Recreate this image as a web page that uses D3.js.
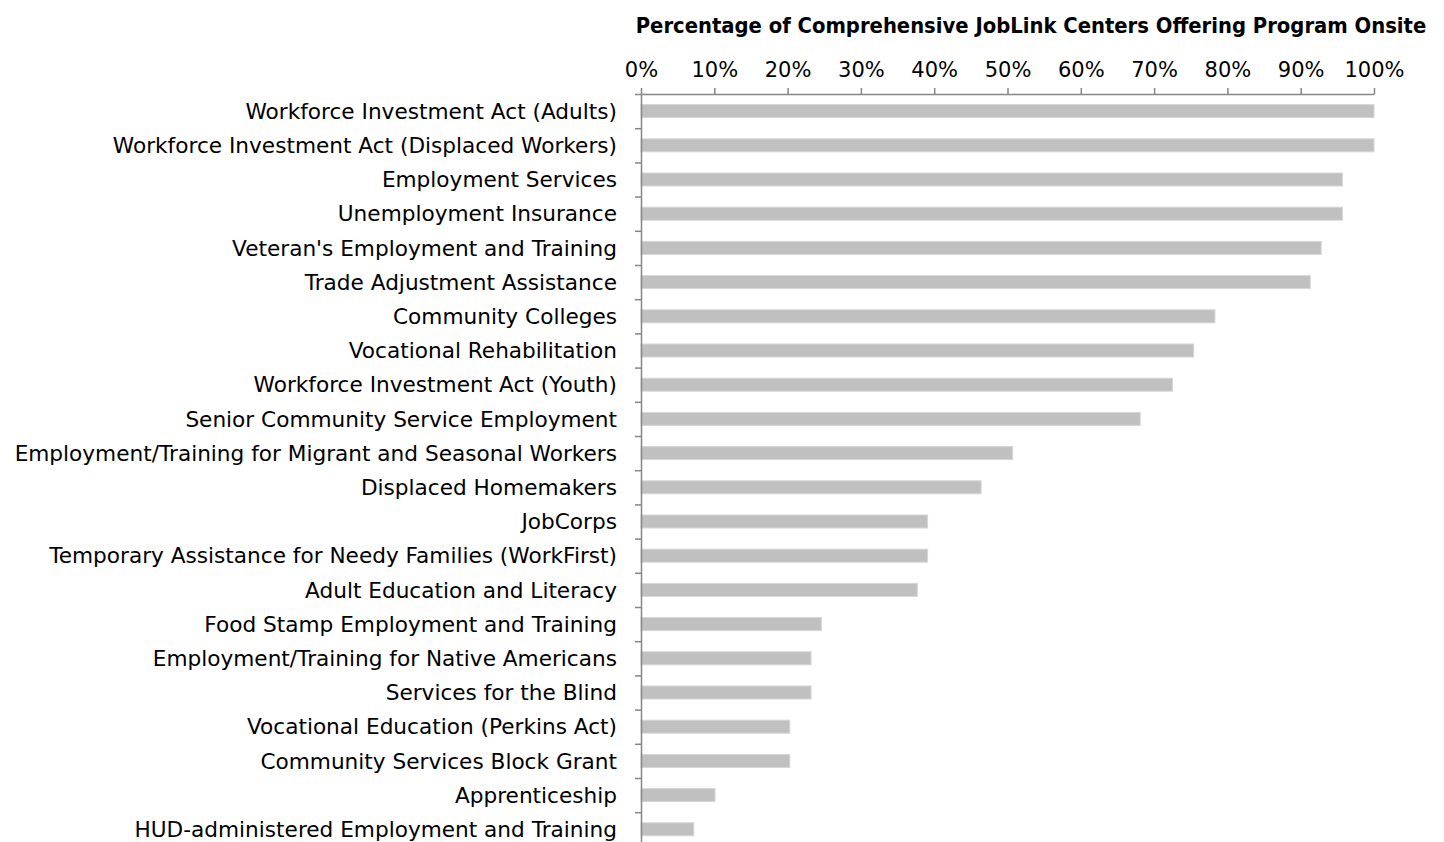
<!DOCTYPE html>
<html>
<head>
<meta charset="utf-8">
<script src="https://cdn.jsdelivr.net/npm/d3@7"></script>
<style>
  body { margin: 0; background: #fff; }
  svg { display: block; }
  text { font-family: "DejaVu Sans", sans-serif; fill: #000; }
</style>
</head>
<body>
<svg id="chart" width="1444" height="842"></svg>
<script>
// programs, top to bottom
var programs = [
    "Workforce Investment Act (Adults)",
    "Workforce Investment Act (Displaced Workers)",
    "Employment Services",
    "Unemployment Insurance",
    "Veteran's Employment and Training",
    "Trade Adjustment Assistance",
    "Community Colleges",
    "Vocational Rehabilitation",
    "Workforce Investment Act (Youth)",
    "Senior Community Service Employment",
    "Employment/Training for Migrant and Seasonal Workers",
    "Displaced Homemakers",
    "JobCorps",
    "Temporary Assistance for Needy Families (WorkFirst)",
    "Adult Education and Literacy",
    "Food Stamp Employment and Training",
    "Employment/Training for Native Americans",
    "Services for the Blind",
    "Vocational Education (Perkins Act)",
    "Community Services Block Grant",
    "Apprenticeship",
    "HUD-administered Employment and Training"
];
// percent of centers offering it onsite
var percentOnsite = [100, 100, 95.7, 95.7, 92.8, 91.3, 78.3, 75.4, 72.5, 68.1,
    50.7, 46.4, 39.1, 39.1, 37.7, 24.6, 23.2, 23.2, 20.3, 20.3, 10.1, 7.2];
var xTicks = [0, 10, 20, 30, 40, 50, 60, 70, 80, 90, 100];
var title = "Percentage of Comprehensive JobLink Centers Offering Program Onsite";

var drawChart = function () {
    var data = programs.map(function (p, i) { return { label: p, value: percentOnsite[i] }; });

    var svg = d3.select("#chart"),
        plotLeft = 641, plotRight = 1374, plotTop = 94,
        step = 34.2,
        plotBottom = plotTop + step * programs.length;

    var x = d3.scaleLinear().domain([0, 100]).range([plotLeft, plotRight]);
    var y = d3.scaleBand().domain(programs).range([plotTop, plotBottom])
        .paddingInner(0.62).paddingOuter(0.31);
    var yEdges = d3.scaleLinear().domain([0, programs.length]).range([plotTop, plotBottom]);

    // title, stretched to the width it has in the original
    var t = svg.append("text")
        .attr("x", 1031)
        .attr("y", 33)
        .attr("text-anchor", "middle")
        .attr("font-size", "19px")
        .attr("font-weight", "bold")
        .style("font-family", "'DejaVu Sans Condensed', 'DejaVu Sans', sans-serif")
        .text(title);
    t.attr("font-size", (19 * 791 / t.node().getComputedTextLength()) + "px");

    // bars
    svg.selectAll(".bar")
        .data(data)
        .enter().append("rect")
        .attr("class", "bar")
        .attr("x", x(0))
        .attr("y", function (d) { return y(d.label); })
        .attr("width", function (d) { return x(d.value) - x(0); })
        .attr("height", y.bandwidth())
        .attr("fill", "#c0c0c0")
        .attr("stroke", "#d6d6d6")
        .attr("stroke-width", 1);

    // top axis
    var xAxis = svg.append("g")
        .attr("transform", "translate(0," + plotTop + ")")
        .call(d3.axisTop(x).tickValues(xTicks).tickSize(6).tickSizeOuter(0)
            .tickFormat(function (d) { return d + "%"; }));
    xAxis.select(".domain").attr("stroke", "#868686").attr("stroke-width", 1.5);
    xAxis.selectAll(".tick line").attr("stroke", "#868686").attr("stroke-width", 1.5);
    xAxis.selectAll(".tick text")
        .attr("font-size", "21px")
        .attr("y", -17)
        .attr("fill", "#000")
        .style("font-family", "DejaVu Sans, sans-serif");

    // left axis, ticks between categories
    var yAxis = svg.append("g")
        .attr("transform", "translate(" + plotLeft + ",0)")
        .call(d3.axisLeft(yEdges).tickValues(d3.range(0, programs.length + 1))
            .tickSize(6).tickSizeOuter(0).tickFormat(""));
    yAxis.select(".domain").attr("stroke", "#868686").attr("stroke-width", 1.5);
    yAxis.selectAll(".tick line").attr("stroke", "#868686").attr("stroke-width", 1.5);

    // category labels
    var labels = svg.selectAll(".label")
        .data(data)
        .enter().append("text")
        .attr("class", "label")
        .attr("x", 617)
        .attr("y", function (d) { return y(d.label) + y.bandwidth() / 2; })
        .attr("dy", "0.36em")
        .attr("text-anchor", "end")
        .attr("font-size", "20px")
        .text(function (d) { return d.label; });

    // fit the longest label to the space it has in the original
    var widest = d3.max(labels.nodes(), function (n) { return n.getComputedTextLength(); });
    labels.attr("font-size", (20 * 603 / widest) + "px");
};

drawChart();
</script>
</body>
</html>
